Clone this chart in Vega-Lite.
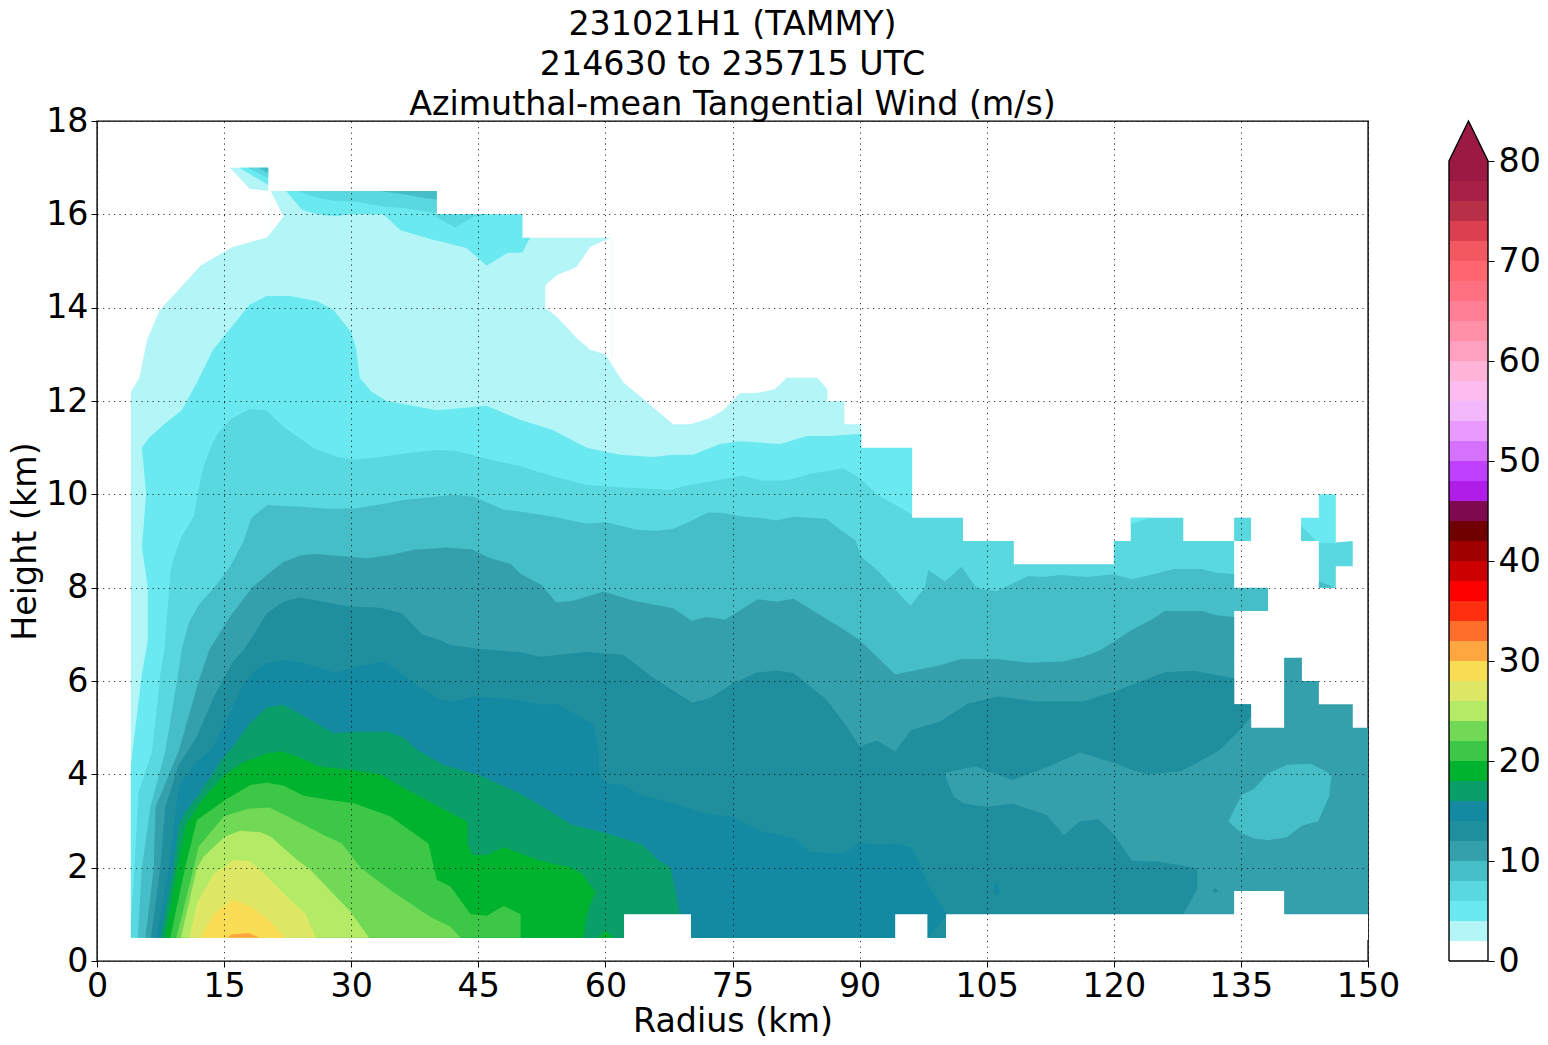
{"$schema":"https://vega.github.io/schema/vega-lite/v6.json","background":"white","padding":{"left":7,"top":6,"right":0,"bottom":0},"spacing":45,"config":{"font":"DejaVu Sans","view":{"stroke":null},"title":{"font":"DejaVu Sans"}},"hconcat":[{"width":1271,"height":840,"view":{"stroke":"black","strokeWidth":1.4},"title":{"text":["231021H1 (TAMMY)","214630 to 235715 UTC","Azimuthal-mean Tangential Wind (m/s)"],"fontSize":33.3,"fontWeight":"normal","lineHeight":40,"anchor":"middle","offset":-18,"color":"black"},"data":{"values":[
{"id":"a","level":2,"r":4,"lo":0.5,"hi":12.2},{"id":"a","level":2,"r":5,"lo":0.5,"hi":12.5},{"id":"a","level":2,"r":5.9,"lo":0.5,"hi":13.3},{"id":"a","level":2,"r":7.4,"lo":0.5,"hi":13.95},{"id":"a","level":2,"r":9.2,"lo":0.5,"hi":14.3},{"id":"a","level":2,"r":12.2,"lo":0.5,"hi":14.9},{"id":"a","level":2,"r":16,"lo":0.5,"hi":15.3},{"id":"a","level":2,"r":20,"lo":0.5,"hi":15.5},{"id":"a","level":2,"r":20.5,"lo":0.5,"hi":15.6},{"id":"a","level":2,"r":20.5,"lo":0.5,"hi":16.5},{"id":"a","level":2,"r":40.1,"lo":0.5,"hi":16.5},{"id":"a","level":2,"r":40.1,"lo":0.5,"hi":16},{"id":"a","level":2,"r":50.2,"lo":0.5,"hi":16},{"id":"a","level":2,"r":50.2,"lo":0.5,"hi":15.5},{"id":"a","level":2,"r":60.7,"lo":0.5,"hi":15.5},{"id":"a","level":2,"r":60.7,"lo":0.5,"hi":12.8},{"id":"a","level":2,"r":62.1,"lo":0.5,"hi":12.4},{"id":"a","level":2,"r":64.1,"lo":0.5,"hi":12.1},{"id":"a","level":2,"r":68,"lo":0.5,"hi":11.5},{"id":"a","level":2,"r":70,"lo":0.5,"hi":11.5},{"id":"a","level":2,"r":72.3,"lo":0.5,"hi":11.63},{"id":"a","level":2,"r":73.9,"lo":0.5,"hi":11.8},{"id":"a","level":2,"r":75.9,"lo":0.5,"hi":12.17},{"id":"a","level":2,"r":77.9,"lo":0.5,"hi":12.17},{"id":"a","level":2,"r":80,"lo":0.5,"hi":12.25},{"id":"a","level":2,"r":81.4,"lo":0.5,"hi":12.5},{"id":"a","level":2,"r":85,"lo":0.5,"hi":12.5},{"id":"a","level":2,"r":86.2,"lo":0.5,"hi":12.25},{"id":"a","level":2,"r":86.2,"lo":0.5,"hi":12},{"id":"a","level":2,"r":88.2,"lo":0.5,"hi":12},{"id":"a","level":2,"r":88.2,"lo":0.5,"hi":11.5},{"id":"a","level":2,"r":90.2,"lo":0.5,"hi":11.5},
{"id":"a2","level":2,"r":15.7,"lo":17,"hi":17},{"id":"a2","level":2,"r":18,"lo":16.55,"hi":17},{"id":"a2","level":2,"r":20.2,"lo":16.5,"hi":17},
{"id":"a3","level":4,"r":16.8,"lo":17,"hi":17},{"id":"a3","level":4,"r":20.2,"lo":16.63,"hi":17},
{"id":"a4","level":6,"r":17.7,"lo":17,"hi":17},{"id":"a4","level":6,"r":20.2,"lo":16.78,"hi":17},
{"id":"a5","level":8,"r":19,"lo":17,"hi":17},{"id":"a5","level":8,"r":20.2,"lo":16.88,"hi":17},
{"id":"b","level":4,"r":4,"lo":0.5,"hi":4.2},{"id":"b","level":4,"r":5.3,"lo":0.5,"hi":6.15},{"id":"b","level":4,"r":5.3,"lo":0.5,"hi":11},{"id":"b","level":4,"r":6.1,"lo":0.5,"hi":11.2},{"id":"b","level":4,"r":7.9,"lo":0.5,"hi":11.5},{"id":"b","level":4,"r":10,"lo":0.5,"hi":11.8},{"id":"b","level":4,"r":11.8,"lo":0.5,"hi":12.4},{"id":"b","level":4,"r":13.7,"lo":0.5,"hi":13.1},{"id":"b","level":4,"r":18,"lo":0.5,"hi":14.06},{"id":"b","level":4,"r":20,"lo":0.5,"hi":14.25},{"id":"b","level":4,"r":22.8,"lo":0.5,"hi":14.25},{"id":"b","level":4,"r":26,"lo":0.5,"hi":14.14},{"id":"b","level":4,"r":27.9,"lo":0.5,"hi":13.95},{"id":"b","level":4,"r":30,"lo":0.5,"hi":13.48},{"id":"b","level":4,"r":30.6,"lo":0.5,"hi":13.1},{"id":"b","level":4,"r":31,"lo":0.5,"hi":12.5},{"id":"b","level":4,"r":32.4,"lo":0.5,"hi":12.2},{"id":"b","level":4,"r":34.2,"lo":0.5,"hi":12},{"id":"b","level":4,"r":40.1,"lo":0.5,"hi":11.8},{"id":"b","level":4,"r":46,"lo":0.5,"hi":11.9},{"id":"b","level":4,"r":49.9,"lo":0.5,"hi":11.6},{"id":"b","level":4,"r":53.8,"lo":0.5,"hi":11.38},{"id":"b","level":4,"r":57.8,"lo":0.5,"hi":11},{"id":"b","level":4,"r":61.7,"lo":0.5,"hi":10.85},{"id":"b","level":4,"r":65.6,"lo":0.5,"hi":10.8},{"id":"b","level":4,"r":68,"lo":0.5,"hi":10.85},{"id":"b","level":4,"r":70.3,"lo":0.5,"hi":10.85},{"id":"b","level":4,"r":73.5,"lo":0.5,"hi":11.08},{"id":"b","level":4,"r":75.9,"lo":0.5,"hi":11.14},{"id":"b","level":4,"r":80.6,"lo":0.5,"hi":11.08},{"id":"b","level":4,"r":83.8,"lo":0.5,"hi":11.25},{"id":"b","level":4,"r":86.5,"lo":0.5,"hi":11.25},{"id":"b","level":4,"r":90.2,"lo":0.5,"hi":11.3},{"id":"b","level":4,"r":90.2,"lo":0.5,"hi":11},{"id":"b","level":4,"r":96.2,"lo":0.5,"hi":11},
{"id":"b2","level":2,"r":5.3,"lo":6.15,"hi":8.87},{"id":"b2","level":2,"r":6,"lo":6.88,"hi":8},
{"id":"b3","level":2,"r":5.3,"lo":8.87,"hi":11},{"id":"b3","level":2,"r":5.8,"lo":10,"hi":10},
{"id":"b4","level":4,"r":22.3,"lo":16.5,"hi":16.5},{"id":"b4","level":4,"r":24.2,"lo":16.1,"hi":16.5},{"id":"b4","level":4,"r":26,"lo":16,"hi":16.5},{"id":"b4","level":4,"r":28,"lo":15.96,"hi":16.5},{"id":"b4","level":4,"r":30,"lo":16,"hi":16.5},{"id":"b4","level":4,"r":33.8,"lo":16,"hi":16.5},{"id":"b4","level":4,"r":35.8,"lo":15.66,"hi":16.5},{"id":"b4","level":4,"r":39.7,"lo":15.45,"hi":16.5},{"id":"b4","level":4,"r":40.1,"lo":15.44,"hi":16.5},{"id":"b4","level":4,"r":40.1,"lo":15.44,"hi":16},{"id":"b4","level":4,"r":43.6,"lo":15.28,"hi":16},{"id":"b4","level":4,"r":46,"lo":14.9,"hi":16},{"id":"b4","level":4,"r":48.4,"lo":15.17,"hi":16},{"id":"b4","level":4,"r":50.2,"lo":15.18,"hi":16},{"id":"b4","level":4,"r":50.2,"lo":15.18,"hi":15.5},{"id":"b4","level":4,"r":51.1,"lo":15.5,"hi":15.5},
{"id":"b5","level":6,"r":23.7,"lo":16.5,"hi":16.5},{"id":"b5","level":6,"r":25.5,"lo":16.38,"hi":16.5},{"id":"b5","level":6,"r":27.9,"lo":16.29,"hi":16.5},{"id":"b5","level":6,"r":30.6,"lo":16.27,"hi":16.5},{"id":"b5","level":6,"r":33.8,"lo":16.17,"hi":16.5},{"id":"b5","level":6,"r":36.2,"lo":16.13,"hi":16.5},{"id":"b5","level":6,"r":38.9,"lo":16.06,"hi":16.5},{"id":"b5","level":6,"r":40.1,"lo":16.02,"hi":16.5},
{"id":"b6","level":8,"r":33.4,"lo":16.5,"hi":16.5},{"id":"b6","level":8,"r":36.5,"lo":16.42,"hi":16.5},{"id":"b6","level":8,"r":38.9,"lo":16.34,"hi":16.5},{"id":"b6","level":8,"r":40.1,"lo":16.32,"hi":16.5},
{"id":"b7","level":6,"r":39.5,"lo":16,"hi":16},{"id":"b7","level":6,"r":42.25,"lo":15.72,"hi":16},{"id":"b7","level":6,"r":44.4,"lo":15.95,"hi":16},{"id":"b7","level":6,"r":46.4,"lo":16,"hi":16},
{"id":"c","level":6,"r":4,"lo":0.5,"hi":0.88},{"id":"c","level":6,"r":4.33,"lo":0.5,"hi":1.74},{"id":"c","level":6,"r":4.9,"lo":0.5,"hi":3.6},{"id":"c","level":6,"r":6.5,"lo":0.5,"hi":4.5},{"id":"c","level":6,"r":7.5,"lo":0.5,"hi":6.17},{"id":"c","level":6,"r":7.95,"lo":0.5,"hi":6.67},{"id":"c","level":6,"r":8.65,"lo":0.5,"hi":8.31},{"id":"c","level":6,"r":9.1,"lo":0.5,"hi":8.67},{"id":"c","level":6,"r":10,"lo":0.5,"hi":9.1},{"id":"c","level":6,"r":11.4,"lo":0.5,"hi":9.52},{"id":"c","level":6,"r":12.2,"lo":0.5,"hi":10.3},{"id":"c","level":6,"r":12.6,"lo":0.5,"hi":10.6},{"id":"c","level":6,"r":13.4,"lo":0.5,"hi":11},{"id":"c","level":6,"r":14.2,"lo":0.5,"hi":11.3},{"id":"c","level":6,"r":15.9,"lo":0.5,"hi":11.63},{"id":"c","level":6,"r":18.1,"lo":0.5,"hi":11.83},{"id":"c","level":6,"r":20,"lo":0.5,"hi":11.8},{"id":"c","level":6,"r":22,"lo":0.5,"hi":11.45},{"id":"c","level":6,"r":25.6,"lo":0.5,"hi":10.99},{"id":"c","level":6,"r":28.3,"lo":0.5,"hi":10.8},{"id":"c","level":6,"r":30.3,"lo":0.5,"hi":10.74},{"id":"c","level":6,"r":33.4,"lo":0.5,"hi":10.8},{"id":"c","level":6,"r":37.4,"lo":0.5,"hi":10.9},{"id":"c","level":6,"r":40.1,"lo":0.5,"hi":10.95},{"id":"c","level":6,"r":42.5,"lo":0.5,"hi":10.93},{"id":"c","level":6,"r":45.2,"lo":0.5,"hi":10.8},{"id":"c","level":6,"r":49.9,"lo":0.5,"hi":10.6},{"id":"c","level":6,"r":53.9,"lo":0.5,"hi":10.38},{"id":"c","level":6,"r":57.8,"lo":0.5,"hi":10.2},{"id":"c","level":6,"r":61.7,"lo":0.5,"hi":10.15},{"id":"c","level":6,"r":67.6,"lo":0.5,"hi":10.1},{"id":"c","level":6,"r":70.4,"lo":0.5,"hi":10.22},{"id":"c","level":6,"r":73.5,"lo":0.5,"hi":10.31},{"id":"c","level":6,"r":76.1,"lo":0.5,"hi":10.4},{"id":"c","level":6,"r":78.6,"lo":0.5,"hi":10.29},{"id":"c","level":6,"r":81.4,"lo":0.5,"hi":10.3},{"id":"c","level":6,"r":84.5,"lo":0.5,"hi":10.45},{"id":"c","level":6,"r":88.1,"lo":0.5,"hi":10.56},{"id":"c","level":6,"r":90,"lo":0.5,"hi":10.35},{"id":"c","level":6,"r":92,"lo":0.5,"hi":10},{"id":"c","level":6,"r":96.1,"lo":0.5,"hi":9.58},{"id":"c","level":6,"r":96.2,"lo":0.5,"hi":9.5},{"id":"c","level":6,"r":102.2,"lo":0.5,"hi":9.5},{"id":"c","level":6,"r":102.2,"lo":0.5,"hi":9},{"id":"c","level":6,"r":108.2,"lo":0.5,"hi":9},{"id":"c","level":6,"r":108.2,"lo":0.5,"hi":8.5},{"id":"c","level":6,"r":120,"lo":0.5,"hi":8.5},{"id":"c","level":6,"r":120,"lo":0.5,"hi":9},{"id":"c","level":6,"r":122,"lo":0.5,"hi":9},{"id":"c","level":6,"r":122,"lo":0.5,"hi":9.5},{"id":"c","level":6,"r":128.2,"lo":0.5,"hi":9.5},{"id":"c","level":6,"r":128.2,"lo":0.5,"hi":9},{"id":"c","level":6,"r":134.2,"lo":0.5,"hi":9},
{"id":"c2","level":4,"r":122,"lo":9.36,"hi":9.5},{"id":"c2","level":4,"r":124.3,"lo":9.5,"hi":9.5},
{"id":"c3","level":6,"r":134.2,"lo":9,"hi":9.5},{"id":"c3","level":6,"r":136.2,"lo":9,"hi":9.5},
{"id":"c4","level":4,"r":142.1,"lo":9,"hi":9.5},{"id":"c4","level":4,"r":144.2,"lo":9,"hi":9.5},{"id":"c4","level":4,"r":144.2,"lo":8.9,"hi":10},{"id":"c4","level":4,"r":146.2,"lo":8.9,"hi":10},
{"id":"c5","level":6,"r":142.1,"lo":9,"hi":9.34},{"id":"c5","level":6,"r":143.9,"lo":9,"hi":9},
{"id":"c6","level":6,"r":144.2,"lo":8,"hi":8.96},{"id":"c6","level":6,"r":146.2,"lo":8,"hi":8.95},{"id":"c6","level":6,"r":146.2,"lo":8.46,"hi":8.97},{"id":"c6","level":6,"r":148.2,"lo":8.46,"hi":9},
{"id":"c7","level":8,"r":144.2,"lo":8,"hi":8.14},{"id":"c7","level":8,"r":146.2,"lo":8,"hi":8},
{"id":"d","level":8,"r":4.8,"lo":0.5,"hi":0.5},{"id":"d","level":8,"r":5.3,"lo":0.5,"hi":2},{"id":"d","level":8,"r":6.3,"lo":0.5,"hi":3.3},{"id":"d","level":8,"r":8.06,"lo":0.5,"hi":4.5},{"id":"d","level":8,"r":9.44,"lo":0.5,"hi":6},{"id":"d","level":8,"r":10,"lo":0.5,"hi":6.67},{"id":"d","level":8,"r":10.8,"lo":0.5,"hi":7.24},{"id":"d","level":8,"r":12,"lo":0.5,"hi":7.63},{"id":"d","level":8,"r":13.8,"lo":0.5,"hi":8},{"id":"d","level":8,"r":15.7,"lo":0.5,"hi":8.45},{"id":"d","level":8,"r":17.3,"lo":0.5,"hi":9},{"id":"d","level":8,"r":18.2,"lo":0.5,"hi":9.49},{"id":"d","level":8,"r":20.1,"lo":0.5,"hi":9.77},{"id":"d","level":8,"r":23.6,"lo":0.5,"hi":9.74},{"id":"d","level":8,"r":27.5,"lo":0.5,"hi":9.69},{"id":"d","level":8,"r":30.7,"lo":0.5,"hi":9.7},{"id":"d","level":8,"r":33.8,"lo":0.5,"hi":9.8},{"id":"d","level":8,"r":36.2,"lo":0.5,"hi":9.88},{"id":"d","level":8,"r":42.1,"lo":0.5,"hi":9.99},{"id":"d","level":8,"r":44.5,"lo":0.5,"hi":9.95},{"id":"d","level":8,"r":48,"lo":0.5,"hi":9.67},{"id":"d","level":8,"r":49.9,"lo":0.5,"hi":9.63},{"id":"d","level":8,"r":53.9,"lo":0.5,"hi":9.52},{"id":"d","level":8,"r":57.8,"lo":0.5,"hi":9.37},{"id":"d","level":8,"r":60.1,"lo":0.5,"hi":9.4},{"id":"d","level":8,"r":63.7,"lo":0.5,"hi":9.24},{"id":"d","level":8,"r":66,"lo":0.5,"hi":9.22},{"id":"d","level":8,"r":68,"lo":0.5,"hi":9.26},{"id":"d","level":8,"r":70,"lo":0.5,"hi":9.42},{"id":"d","level":8,"r":72.1,"lo":0.5,"hi":9.61},{"id":"d","level":8,"r":73.9,"lo":0.5,"hi":9.6},{"id":"d","level":8,"r":76.3,"lo":0.5,"hi":9.52},{"id":"d","level":8,"r":78.6,"lo":0.5,"hi":9.49},{"id":"d","level":8,"r":80.2,"lo":0.5,"hi":9.44},{"id":"d","level":8,"r":82.2,"lo":0.5,"hi":9.52},{"id":"d","level":8,"r":86.1,"lo":0.5,"hi":9.47},{"id":"d","level":8,"r":87.7,"lo":0.5,"hi":9.24},{"id":"d","level":8,"r":89.5,"lo":0.5,"hi":9.02},{"id":"d","level":8,"r":90.2,"lo":0.5,"hi":8.67},{"id":"d","level":8,"r":92.2,"lo":0.5,"hi":8.35},{"id":"d","level":8,"r":94,"lo":0.5,"hi":8},{"id":"d","level":8,"r":96,"lo":0.5,"hi":7.61},{"id":"d","level":8,"r":97.7,"lo":0.5,"hi":8},{"id":"d","level":8,"r":98.1,"lo":0.5,"hi":8.38},{"id":"d","level":8,"r":100.1,"lo":0.5,"hi":8.13},{"id":"d","level":8,"r":102,"lo":0.5,"hi":8.45},{"id":"d","level":8,"r":103.8,"lo":0.5,"hi":8},{"id":"d","level":8,"r":104.8,"lo":0.5,"hi":7.95},{"id":"d","level":8,"r":106.2,"lo":0.5,"hi":7.93},{"id":"d","level":8,"r":107.8,"lo":0.5,"hi":8.07},{"id":"d","level":8,"r":109.9,"lo":0.5,"hi":8.25},{"id":"d","level":8,"r":111.7,"lo":0.5,"hi":8.23},{"id":"d","level":8,"r":113.7,"lo":0.5,"hi":8.27},{"id":"d","level":8,"r":116.8,"lo":0.5,"hi":8.23},{"id":"d","level":8,"r":120,"lo":0.5,"hi":8.29},{"id":"d","level":8,"r":122.1,"lo":0.5,"hi":8.18},{"id":"d","level":8,"r":124.7,"lo":0.5,"hi":8.29},{"id":"d","level":8,"r":127,"lo":0.5,"hi":8.4},{"id":"d","level":8,"r":130.4,"lo":0.5,"hi":8.4},{"id":"d","level":8,"r":132.1,"lo":0.5,"hi":8.32},{"id":"d","level":8,"r":134.2,"lo":0.5,"hi":8.29},{"id":"d","level":8,"r":134.2,"lo":7.5,"hi":8},{"id":"d","level":8,"r":138.2,"lo":7.5,"hi":8},
{"id":"e","level":10,"r":5.7,"lo":0.5,"hi":0.5},{"id":"e","level":10,"r":6.7,"lo":0.5,"hi":2},{"id":"e","level":10,"r":6.9,"lo":0.5,"hi":3.3},{"id":"e","level":10,"r":9.64,"lo":0.5,"hi":4.5},{"id":"e","level":10,"r":12,"lo":0.5,"hi":6},{"id":"e","level":10,"r":13.26,"lo":0.5,"hi":6.67},{"id":"e","level":10,"r":15.7,"lo":0.5,"hi":7.38},{"id":"e","level":10,"r":18.3,"lo":0.5,"hi":8},{"id":"e","level":10,"r":20.3,"lo":0.5,"hi":8.31},{"id":"e","level":10,"r":22,"lo":0.5,"hi":8.55},{"id":"e","level":10,"r":24,"lo":0.5,"hi":8.69},{"id":"e","level":10,"r":25.6,"lo":0.5,"hi":8.72},{"id":"e","level":10,"r":29.5,"lo":0.5,"hi":8.67},{"id":"e","level":10,"r":31.9,"lo":0.5,"hi":8.63},{"id":"e","level":10,"r":34.6,"lo":0.5,"hi":8.7},{"id":"e","level":10,"r":37.4,"lo":0.5,"hi":8.81},{"id":"e","level":10,"r":41.3,"lo":0.5,"hi":8.86},{"id":"e","level":10,"r":44.3,"lo":0.5,"hi":8.82},{"id":"e","level":10,"r":46.4,"lo":0.5,"hi":8.63},{"id":"e","level":10,"r":48.8,"lo":0.5,"hi":8.51},{"id":"e","level":10,"r":49.9,"lo":0.5,"hi":8.31},{"id":"e","level":10,"r":52.5,"lo":0.5,"hi":8.05},{"id":"e","level":10,"r":54.2,"lo":0.5,"hi":7.68},{"id":"e","level":10,"r":56.2,"lo":0.5,"hi":7.72},{"id":"e","level":10,"r":59.8,"lo":0.5,"hi":7.92},{"id":"e","level":10,"r":63.3,"lo":0.5,"hi":7.72},{"id":"e","level":10,"r":68,"lo":0.5,"hi":7.56},{"id":"e","level":10,"r":70.2,"lo":0.5,"hi":7.29},{"id":"e","level":10,"r":71.9,"lo":0.5,"hi":7.37},{"id":"e","level":10,"r":74.1,"lo":0.5,"hi":7.31},{"id":"e","level":10,"r":76.1,"lo":0.5,"hi":7.54},{"id":"e","level":10,"r":78,"lo":0.5,"hi":7.75},{"id":"e","level":10,"r":80.2,"lo":0.5,"hi":7.7},{"id":"e","level":10,"r":82.2,"lo":0.5,"hi":7.76},{"id":"e","level":10,"r":85.3,"lo":0.5,"hi":7.42},{"id":"e","level":10,"r":88.5,"lo":0.5,"hi":7.06},{"id":"e","level":10,"r":90,"lo":0.5,"hi":6.88},{"id":"e","level":10,"r":94.2,"lo":0.5,"hi":6.14},{"id":"e","level":10,"r":99.5,"lo":0.5,"hi":6.34},{"id":"e","level":10,"r":102,"lo":0.5,"hi":6.47},{"id":"e","level":10,"r":106.2,"lo":0.5,"hi":6.47},{"id":"e","level":10,"r":110.1,"lo":0.5,"hi":6.39},{"id":"e","level":10,"r":114,"lo":0.5,"hi":6.42},{"id":"e","level":10,"r":116.4,"lo":0.5,"hi":6.52},{"id":"e","level":10,"r":118.4,"lo":0.5,"hi":6.66},{"id":"e","level":10,"r":120,"lo":0.5,"hi":6.84},{"id":"e","level":10,"r":121.9,"lo":0.5,"hi":7.07},{"id":"e","level":10,"r":124.7,"lo":0.5,"hi":7.34},{"id":"e","level":10,"r":126,"lo":0.5,"hi":7.5},{"id":"e","level":10,"r":130.4,"lo":0.5,"hi":7.5},{"id":"e","level":10,"r":132.1,"lo":0.5,"hi":7.41},{"id":"e","level":10,"r":134.2,"lo":0.5,"hi":7.37},{"id":"e","level":10,"r":134.2,"lo":0.5,"hi":5.5},{"id":"e","level":10,"r":136.2,"lo":0.5,"hi":5.5},{"id":"e","level":10,"r":136.2,"lo":0.5,"hi":5},{"id":"e","level":10,"r":140.1,"lo":0.5,"hi":5},{"id":"e","level":10,"r":140.1,"lo":0.5,"hi":6.5},{"id":"e","level":10,"r":142.2,"lo":0.5,"hi":6.5},{"id":"e","level":10,"r":142.2,"lo":0.5,"hi":6},{"id":"e","level":10,"r":144.2,"lo":0.5,"hi":6},{"id":"e","level":10,"r":144.2,"lo":0.5,"hi":5.5},{"id":"e","level":10,"r":148.2,"lo":0.5,"hi":5.5},{"id":"e","level":10,"r":148.2,"lo":0.5,"hi":5},{"id":"e","level":10,"r":150,"lo":0.5,"hi":5},
{"id":"f","level":12,"r":6.37,"lo":0.5,"hi":0.5},{"id":"f","level":12,"r":7.47,"lo":0.5,"hi":2},{"id":"f","level":12,"r":8.06,"lo":0.5,"hi":3.3},{"id":"f","level":12,"r":9.64,"lo":0.5,"hi":4.2},{"id":"f","level":12,"r":11.8,"lo":0.5,"hi":4.81},{"id":"f","level":12,"r":13.8,"lo":0.5,"hi":5.67},{"id":"f","level":12,"r":15.9,"lo":0.5,"hi":6.38},{"id":"f","level":12,"r":17.3,"lo":0.5,"hi":6.67},{"id":"f","level":12,"r":18.1,"lo":0.5,"hi":6.88},{"id":"f","level":12,"r":20.06,"lo":0.5,"hi":7.45},{"id":"f","level":12,"r":22,"lo":0.5,"hi":7.7},{"id":"f","level":12,"r":24,"lo":0.5,"hi":7.79},{"id":"f","level":12,"r":26.75,"lo":0.5,"hi":7.7},{"id":"f","level":12,"r":29.5,"lo":0.5,"hi":7.6},{"id":"f","level":12,"r":33.4,"lo":0.5,"hi":7.57},{"id":"f","level":12,"r":36,"lo":0.5,"hi":7.45},{"id":"f","level":12,"r":38.4,"lo":0.5,"hi":6.99},{"id":"f","level":12,"r":40.5,"lo":0.5,"hi":6.88},{"id":"f","level":12,"r":41.7,"lo":0.5,"hi":6.77},{"id":"f","level":12,"r":45,"lo":0.5,"hi":6.69},{"id":"f","level":12,"r":49.9,"lo":0.5,"hi":6.62},{"id":"f","level":12,"r":52.3,"lo":0.5,"hi":6.52},{"id":"f","level":12,"r":57.8,"lo":0.5,"hi":6.62},{"id":"f","level":12,"r":62.1,"lo":0.5,"hi":6.56},{"id":"f","level":12,"r":65.7,"lo":0.5,"hi":6.06},{"id":"f","level":12,"r":70.2,"lo":0.5,"hi":5.54},{"id":"f","level":12,"r":72.3,"lo":0.5,"hi":5.63},{"id":"f","level":12,"r":75.1,"lo":0.5,"hi":5.95},{"id":"f","level":12,"r":77.85,"lo":0.5,"hi":6.18},{"id":"f","level":12,"r":80.2,"lo":0.5,"hi":6.22},{"id":"f","level":12,"r":82.2,"lo":0.5,"hi":6.17},{"id":"f","level":12,"r":86.1,"lo":0.5,"hi":5.6},{"id":"f","level":12,"r":88.5,"lo":0.5,"hi":5.02},{"id":"f","level":12,"r":90,"lo":0.5,"hi":4.6},{"id":"f","level":12,"r":92.1,"lo":0.5,"hi":4.72},{"id":"f","level":12,"r":94.2,"lo":0.5,"hi":4.49},{"id":"f","level":12,"r":96.1,"lo":0.5,"hi":4.95},{"id":"f","level":12,"r":99.5,"lo":0.5,"hi":5.13},{"id":"f","level":12,"r":101,"lo":0.5,"hi":5.31},{"id":"f","level":12,"r":102.8,"lo":0.5,"hi":5.52},{"id":"f","level":12,"r":106.4,"lo":0.5,"hi":5.67},{"id":"f","level":12,"r":110.9,"lo":0.5,"hi":5.56},{"id":"f","level":12,"r":116.4,"lo":0.5,"hi":5.56},{"id":"f","level":12,"r":120,"lo":0.5,"hi":5.77},{"id":"f","level":12,"r":126,"lo":0.5,"hi":6.19},{"id":"f","level":12,"r":129.4,"lo":0.5,"hi":6.22},{"id":"f","level":12,"r":134.2,"lo":0.5,"hi":6.06},{"id":"f","level":12,"r":134.2,"lo":0.5,"hi":5.5},{"id":"f","level":12,"r":136.2,"lo":0.5,"hi":5.5},
{"id":"g","level":10,"r":100,"lo":4.02,"hi":4.02},{"id":"g","level":10,"r":101.1,"lo":3.52,"hi":4.07},{"id":"g","level":10,"r":102.25,"lo":3.38,"hi":4.12},{"id":"g","level":10,"r":103.8,"lo":3.33,"hi":4.17},{"id":"g","level":10,"r":105.2,"lo":3.31,"hi":4.06},{"id":"g","level":10,"r":108.1,"lo":3.37,"hi":3.88},{"id":"g","level":10,"r":112.1,"lo":3.13,"hi":4.15},{"id":"g","level":10,"r":114.1,"lo":2.7,"hi":4.31},{"id":"g","level":10,"r":116,"lo":2.99,"hi":4.47},{"id":"g","level":10,"r":118.2,"lo":3.04,"hi":4.35},{"id":"g","level":10,"r":120.1,"lo":2.7,"hi":4.24},{"id":"g","level":10,"r":122.1,"lo":2.15,"hi":4.1},{"id":"g","level":10,"r":123.9,"lo":2.14,"hi":4},{"id":"g","level":10,"r":125.1,"lo":2.13,"hi":4.02},{"id":"g","level":10,"r":127.8,"lo":2.05,"hi":4.06},{"id":"g","level":10,"r":129.85,"lo":1.99,"hi":4.25},{"id":"g","level":10,"r":129.85,"lo":0.5,"hi":4.25},{"id":"g","level":10,"r":132.5,"lo":0.5,"hi":4.52},{"id":"g","level":10,"r":135.1,"lo":0.5,"hi":4.99},{"id":"g","level":10,"r":136.2,"lo":0.5,"hi":5.24},
{"id":"g2","level":10,"r":128.2,"lo":0.5,"hi":1},{"id":"g2","level":10,"r":129.9,"lo":0.5,"hi":1.56},
{"id":"g3","level":12,"r":131.6,"lo":1.52,"hi":1.52},{"id":"g3","level":12,"r":132,"lo":1.46,"hi":1.56},{"id":"g3","level":12,"r":132.3,"lo":1.5,"hi":1.5},
{"id":"g4","level":8,"r":133.5,"lo":2.99,"hi":2.99},{"id":"g4","level":8,"r":135.1,"lo":2.74,"hi":3.56},{"id":"g4","level":8,"r":136.5,"lo":2.63,"hi":3.68},{"id":"g4","level":8,"r":138.2,"lo":2.59,"hi":4.02},{"id":"g4","level":8,"r":140.4,"lo":2.65,"hi":4.2},{"id":"g4","level":8,"r":142.2,"lo":2.9,"hi":4.22},{"id":"g4","level":8,"r":143.2,"lo":2.95,"hi":4.22},{"id":"g4","level":8,"r":144.1,"lo":2.99,"hi":4.15},{"id":"g4","level":8,"r":145.4,"lo":3.52,"hi":4.02},{"id":"g4","level":8,"r":145.7,"lo":3.99,"hi":3.99},
{"id":"h","level":14,"r":7,"lo":0.5,"hi":0.5},{"id":"h","level":14,"r":8.46,"lo":0.5,"hi":2},{"id":"h","level":14,"r":9.05,"lo":0.5,"hi":2.88},{"id":"h","level":14,"r":9.64,"lo":0.5,"hi":3.74},{"id":"h","level":14,"r":11.6,"lo":0.5,"hi":4.24},{"id":"h","level":14,"r":13.6,"lo":0.5,"hi":4.56},{"id":"h","level":14,"r":15.7,"lo":0.5,"hi":5.31},{"id":"h","level":14,"r":17.3,"lo":0.5,"hi":5.95},{"id":"h","level":14,"r":18.5,"lo":0.5,"hi":6.2},{"id":"h","level":14,"r":20,"lo":0.5,"hi":6.38},{"id":"h","level":14,"r":22.4,"lo":0.5,"hi":6.45},{"id":"h","level":14,"r":24.4,"lo":0.5,"hi":6.38},{"id":"h","level":14,"r":28.1,"lo":0.5,"hi":6.18},{"id":"h","level":14,"r":31.5,"lo":0.5,"hi":6.34},{"id":"h","level":14,"r":34,"lo":0.5,"hi":6.42},{"id":"h","level":14,"r":38,"lo":0.5,"hi":5.88},{"id":"h","level":14,"r":40.5,"lo":0.5,"hi":5.61},{"id":"h","level":14,"r":42.1,"lo":0.5,"hi":5.56},{"id":"h","level":14,"r":44.3,"lo":0.5,"hi":5.67},{"id":"h","level":14,"r":49.9,"lo":0.5,"hi":5.59},{"id":"h","level":14,"r":52.3,"lo":0.5,"hi":5.49},{"id":"h","level":14,"r":54.4,"lo":0.5,"hi":5.5},{"id":"h","level":14,"r":58.6,"lo":0.5,"hi":5.06},{"id":"h","level":14,"r":59.2,"lo":0.5,"hi":4.52},{"id":"h","level":14,"r":59.3,"lo":0.5,"hi":4.02},{"id":"h","level":14,"r":60,"lo":0.5,"hi":3.81},{"id":"h","level":14,"r":62.1,"lo":0.5,"hi":3.77},{"id":"h","level":14,"r":64.1,"lo":0.5,"hi":3.56},{"id":"h","level":14,"r":68,"lo":0.5,"hi":3.38},{"id":"h","level":14,"r":72,"lo":0.5,"hi":3.15},{"id":"h","level":14,"r":75.1,"lo":0.5,"hi":3.09},{"id":"h","level":14,"r":78.2,"lo":0.5,"hi":2.79},{"id":"h","level":14,"r":82.4,"lo":0.5,"hi":2.62},{"id":"h","level":14,"r":84.1,"lo":0.5,"hi":2.34},{"id":"h","level":14,"r":88.1,"lo":0.5,"hi":2.3},{"id":"h","level":14,"r":90,"lo":0.5,"hi":2.54},{"id":"h","level":14,"r":92.2,"lo":0.5,"hi":2.49},{"id":"h","level":14,"r":94.2,"lo":0.5,"hi":2.52},{"id":"h","level":14,"r":96.1,"lo":0.5,"hi":2.44},{"id":"h","level":14,"r":96.9,"lo":0.5,"hi":2.17},{"id":"h","level":14,"r":98.1,"lo":0.5,"hi":1.63},{"id":"h","level":14,"r":100.3,"lo":0.5,"hi":1},
{"id":"h2","level":12,"r":98.1,"lo":0.5,"hi":0.5},{"id":"h2","level":12,"r":100.2,"lo":0.5,"hi":0.97},
{"id":"h3","level":14,"r":105.9,"lo":1.45,"hi":1.6},{"id":"h3","level":14,"r":106.2,"lo":1.41,"hi":1.72},{"id":"h3","level":14,"r":106.5,"lo":1.45,"hi":1.55},
{"id":"i","level":16,"r":7.47,"lo":0.5,"hi":0.5},{"id":"i","level":16,"r":9,"lo":0.5,"hi":2},{"id":"i","level":16,"r":9.64,"lo":0.5,"hi":2.88},{"id":"i","level":16,"r":10.4,"lo":0.5,"hi":3.2},{"id":"i","level":16,"r":11.8,"lo":0.5,"hi":3.52},{"id":"i","level":16,"r":15,"lo":0.5,"hi":4.38},{"id":"i","level":16,"r":16.1,"lo":0.5,"hi":4.6},{"id":"i","level":16,"r":17.9,"lo":0.5,"hi":5.06},{"id":"i","level":16,"r":20,"lo":0.5,"hi":5.43},{"id":"i","level":16,"r":22,"lo":0.5,"hi":5.49},{"id":"i","level":16,"r":25.2,"lo":0.5,"hi":5.17},{"id":"i","level":16,"r":27.9,"lo":0.5,"hi":4.88},{"id":"i","level":16,"r":31.1,"lo":0.5,"hi":4.92},{"id":"i","level":16,"r":34.2,"lo":0.5,"hi":4.92},{"id":"i","level":16,"r":36.2,"lo":0.5,"hi":4.79},{"id":"i","level":16,"r":37.8,"lo":0.5,"hi":4.52},{"id":"i","level":16,"r":40.9,"lo":0.5,"hi":4.2},{"id":"i","level":16,"r":45,"lo":0.5,"hi":3.99},{"id":"i","level":16,"r":49.9,"lo":0.5,"hi":3.59},{"id":"i","level":16,"r":52.3,"lo":0.5,"hi":3.34},{"id":"i","level":16,"r":56,"lo":0.5,"hi":2.92},{"id":"i","level":16,"r":60,"lo":0.5,"hi":2.75},{"id":"i","level":16,"r":64.3,"lo":0.5,"hi":2.5},{"id":"i","level":16,"r":66.2,"lo":0.5,"hi":2.17},{"id":"i","level":16,"r":67.7,"lo":0.5,"hi":2},{"id":"i","level":16,"r":68.8,"lo":0.5,"hi":1},{"id":"i","level":16,"r":69,"lo":0.5,"hi":0.5},
{"id":"j","level":18,"r":8,"lo":0.5,"hi":0.5},{"id":"j","level":18,"r":9.44,"lo":0.5,"hi":2},{"id":"j","level":18,"r":10.4,"lo":0.5,"hi":2.88},{"id":"j","level":18,"r":11.8,"lo":0.5,"hi":3.3},{"id":"j","level":18,"r":13.6,"lo":0.5,"hi":3.7},{"id":"j","level":18,"r":15.1,"lo":0.5,"hi":3.99},{"id":"j","level":18,"r":17.1,"lo":0.5,"hi":4.24},{"id":"j","level":18,"r":20.06,"lo":0.5,"hi":4.45},{"id":"j","level":18,"r":21.8,"lo":0.5,"hi":4.49},{"id":"j","level":18,"r":23.6,"lo":0.5,"hi":4.38},{"id":"j","level":18,"r":26.2,"lo":0.5,"hi":4.17},{"id":"j","level":18,"r":30.3,"lo":0.5,"hi":4.09},{"id":"j","level":18,"r":33.4,"lo":0.5,"hi":4},{"id":"j","level":18,"r":37.4,"lo":0.5,"hi":3.59},{"id":"j","level":18,"r":43.7,"lo":0.5,"hi":2.99},{"id":"j","level":18,"r":43.7,"lo":0.5,"hi":2.52},{"id":"j","level":18,"r":44.3,"lo":0.5,"hi":2.27},{"id":"j","level":18,"r":46,"lo":0.5,"hi":2.27},{"id":"j","level":18,"r":48,"lo":0.5,"hi":2.44},{"id":"j","level":18,"r":49.9,"lo":0.5,"hi":2.31},{"id":"j","level":18,"r":52.3,"lo":0.5,"hi":2.15},{"id":"j","level":18,"r":56,"lo":0.5,"hi":2},{"id":"j","level":18,"r":57.4,"lo":0.5,"hi":1.85},{"id":"j","level":18,"r":57.8,"lo":1,"hi":1.72},{"id":"j","level":18,"r":58.8,"lo":1.49,"hi":1.49},
{"id":"j2","level":18,"r":59.1,"lo":0.5,"hi":0.5},{"id":"j2","level":18,"r":60,"lo":0.5,"hi":0.65},{"id":"j2","level":18,"r":61,"lo":0.5,"hi":0.5},
{"id":"k","level":20,"r":8.65,"lo":0.5,"hi":0.5},{"id":"k","level":20,"r":10.4,"lo":0.5,"hi":2},{"id":"k","level":20,"r":11.8,"lo":0.5,"hi":3.02},{"id":"k","level":20,"r":15.1,"lo":0.5,"hi":3.45},{"id":"k","level":20,"r":18.1,"lo":0.5,"hi":3.77},{"id":"k","level":20,"r":20,"lo":0.5,"hi":3.82},{"id":"k","level":20,"r":22,"lo":0.5,"hi":3.76},{"id":"k","level":20,"r":24.4,"lo":0.5,"hi":3.54},{"id":"k","level":20,"r":27.5,"lo":0.5,"hi":3.45},{"id":"k","level":20,"r":30.3,"lo":0.5,"hi":3.38},{"id":"k","level":20,"r":34.6,"lo":0.5,"hi":3.1},{"id":"k","level":20,"r":39.1,"lo":0.5,"hi":2.52},{"id":"k","level":20,"r":40.1,"lo":0.5,"hi":1.74},{"id":"k","level":20,"r":41.7,"lo":0.5,"hi":1.6},{"id":"k","level":20,"r":44.1,"lo":0.5,"hi":1},{"id":"k","level":20,"r":46,"lo":0.5,"hi":0.97},{"id":"k","level":20,"r":48,"lo":0.5,"hi":1.18},{"id":"k","level":20,"r":50,"lo":0.5,"hi":1},{"id":"k","level":20,"r":50,"lo":0.5,"hi":0.5},
{"id":"l","level":22,"r":9.36,"lo":0.5,"hi":0.5},{"id":"l","level":22,"r":11.4,"lo":0.5,"hi":2},{"id":"l","level":22,"r":12,"lo":0.5,"hi":2.45},{"id":"l","level":22,"r":15,"lo":0.5,"hi":3.1},{"id":"l","level":22,"r":17.9,"lo":0.5,"hi":3.26},{"id":"l","level":22,"r":20.26,"lo":0.5,"hi":3.29},{"id":"l","level":22,"r":21.4,"lo":0.5,"hi":3.2},{"id":"l","level":22,"r":26.75,"lo":0.5,"hi":2.7},{"id":"l","level":22,"r":28.9,"lo":0.5,"hi":2.52},{"id":"l","level":22,"r":31.1,"lo":0.5,"hi":2},{"id":"l","level":22,"r":34.6,"lo":0.5,"hi":1.52},{"id":"l","level":22,"r":39.3,"lo":0.5,"hi":0.95},{"id":"l","level":22,"r":41.7,"lo":0.5,"hi":0.74},{"id":"l","level":22,"r":42.9,"lo":0.5,"hi":0.5},
{"id":"m","level":24,"r":9.9,"lo":0.5,"hi":0.5},{"id":"m","level":24,"r":11.8,"lo":0.5,"hi":2},{"id":"m","level":24,"r":12.6,"lo":0.5,"hi":2.24},{"id":"m","level":24,"r":13.8,"lo":0.5,"hi":2.45},{"id":"m","level":24,"r":15.1,"lo":0.5,"hi":2.67},{"id":"m","level":24,"r":16.9,"lo":0.5,"hi":2.79},{"id":"m","level":24,"r":19.3,"lo":0.5,"hi":2.76},{"id":"m","level":24,"r":20.5,"lo":0.5,"hi":2.67},{"id":"m","level":24,"r":23.6,"lo":0.5,"hi":2.17},{"id":"m","level":24,"r":25.2,"lo":0.5,"hi":1.95},{"id":"m","level":24,"r":29.9,"lo":0.5,"hi":1.06},{"id":"m","level":24,"r":32.1,"lo":0.5,"hi":0.5},
{"id":"n","level":26,"r":10.9,"lo":0.5,"hi":0.5},{"id":"n","level":26,"r":11.8,"lo":0.5,"hi":1.24},{"id":"n","level":26,"r":13.8,"lo":0.5,"hi":1.88},{"id":"n","level":26,"r":15.1,"lo":0.5,"hi":2.02},{"id":"n","level":26,"r":16.1,"lo":0.5,"hi":2.17},{"id":"n","level":26,"r":18.1,"lo":0.5,"hi":2.14},{"id":"n","level":26,"r":19.7,"lo":0.5,"hi":1.88},{"id":"n","level":26,"r":22,"lo":0.5,"hi":1.45},{"id":"n","level":26,"r":24.6,"lo":0.5,"hi":1.02},{"id":"n","level":26,"r":25.85,"lo":0.5,"hi":0.5},
{"id":"o","level":28,"r":12.2,"lo":0.5,"hi":0.5},{"id":"o","level":28,"r":13.8,"lo":0.5,"hi":1.02},{"id":"o","level":28,"r":16.1,"lo":0.5,"hi":1.32},{"id":"o","level":28,"r":18.5,"lo":0.5,"hi":1.13},{"id":"o","level":28,"r":20.5,"lo":0.5,"hi":0.84},{"id":"o","level":28,"r":22.2,"lo":0.5,"hi":0.5},
{"id":"p","level":30,"r":15.4,"lo":0.5,"hi":0.5},{"id":"p","level":30,"r":15.9,"lo":0.5,"hi":0.57},{"id":"p","level":30,"r":17.9,"lo":0.5,"hi":0.6},{"id":"p","level":30,"r":19.2,"lo":0.5,"hi":0.5},
{"id":"z1","level":0,"r":62.2,"lo":0.47,"hi":1},{"id":"z1","level":0,"r":70.1,"lo":0.47,"hi":1},
{"id":"z2","level":0,"r":94.2,"lo":0.47,"hi":1},{"id":"z2","level":0,"r":98,"lo":0.47,"hi":1},
{"id":"z3","level":0,"r":100.2,"lo":0.45,"hi":1},{"id":"z3","level":0,"r":150,"lo":0.45,"hi":1},
{"id":"z4","level":0,"r":134.2,"lo":0.98,"hi":1.5},{"id":"z4","level":0,"r":140.1,"lo":0.98,"hi":1.5},
{"id":"z5","level":0,"r":52.9,"lo":14,"hi":14.48},{"id":"z5","level":0,"r":54.3,"lo":13.8,"hi":14.7},{"id":"z5","level":0,"r":56.6,"lo":13.35,"hi":14.87},{"id":"z5","level":0,"r":58.2,"lo":13.1,"hi":15.3},{"id":"z5","level":0,"r":60,"lo":13,"hi":15.45},{"id":"z5","level":0,"r":60.7,"lo":12.8,"hi":15.5},
{"id":"z6","level":0,"r":20.5,"lo":15.6,"hi":16.5},{"id":"z6","level":0,"r":22,"lo":15.95,"hi":15.95}
]},"mark":{"type":"area","orient":"vertical","clip":true},"encoding":{"x":{"field":"r","type":"quantitative","scale":{"domain":[0,150],"nice":false},"axis":{"values":[0,15,30,45,60,75,90,105,120,135,150],"title":"Radius (km)","grid":true,"gridColor":"black","gridDash":[1.2,4.3],"gridOpacity":0.8,"gridWidth":1,"zindex":1,"domain":false,"tickColor":"black","tickSize":6,"labelFontSize":33.3,"labelColor":"black","labelPadding":3,"labelFlush":false,"titleFontSize":33.3,"titleFontWeight":"normal","titleColor":"black","titlePadding":3}},"y":{"field":"lo","type":"quantitative","stack":null,"scale":{"domain":[0,18],"nice":false},"axis":{"values":[0,2,4,6,8,10,12,14,16,18],"title":"Height (km)","grid":true,"gridColor":"black","gridDash":[1.2,4.3],"gridOpacity":0.8,"gridWidth":1,"zindex":1,"domain":false,"tickColor":"black","tickSize":6,"labelFontSize":33.3,"labelColor":"black","labelPadding":3,"titleFontSize":33.3,"titleFontWeight":"normal","titleColor":"black","titlePadding":3}},"y2":{"field":"hi"},"detail":{"field":"id"},"color":{"field":"level","type":"ordinal","legend":null,"scale":{"domain":[0,2,4,6,8,10,12,14,16,18,20,22,24,26,28,30,32,34,36,38,40,42,44,46,48,50,52,54,56,58,60,62,64,66,68,70,72,74,76,78],"range":["#ffffff","#b4f5f7","#6aeaf0","#5ad8df","#46bec8","#34a0ac","#1f8f9e","#138aa2","#0a9e68","#00b32e","#3cc846","#72d957","#b3ea66","#dfe866","#f8dd55","#ffa640","#ff6e2a","#ff3010","#ff0000","#cc0000","#a00000","#700000","#800a50","#b01ce8","#c040ff","#d670ff","#e89aff","#f3b8fb","#fcbcf0","#ffb4d8","#ffa0c0","#ff90a8","#ff8094","#ff7080","#ff6670","#f25860","#dc4050","#b83048","#a82048","#9a1a44"]}}}},
{"width":39,"height":840,"layer":[{"data":{"values":[{"level":0,"lo":0,"hi":2},{"level":2,"lo":2,"hi":4},{"level":4,"lo":4,"hi":6},{"level":6,"lo":6,"hi":8},{"level":8,"lo":8,"hi":10},{"level":10,"lo":10,"hi":12},{"level":12,"lo":12,"hi":14},{"level":14,"lo":14,"hi":16},{"level":16,"lo":16,"hi":18},{"level":18,"lo":18,"hi":20},{"level":20,"lo":20,"hi":22},{"level":22,"lo":22,"hi":24},{"level":24,"lo":24,"hi":26},{"level":26,"lo":26,"hi":28},{"level":28,"lo":28,"hi":30},{"level":30,"lo":30,"hi":32},{"level":32,"lo":32,"hi":34},{"level":34,"lo":34,"hi":36},{"level":36,"lo":36,"hi":38},{"level":38,"lo":38,"hi":40},{"level":40,"lo":40,"hi":42},{"level":42,"lo":42,"hi":44},{"level":44,"lo":44,"hi":46},{"level":46,"lo":46,"hi":48},{"level":48,"lo":48,"hi":50},{"level":50,"lo":50,"hi":52},{"level":52,"lo":52,"hi":54},{"level":54,"lo":54,"hi":56},{"level":56,"lo":56,"hi":58},{"level":58,"lo":58,"hi":60},{"level":60,"lo":60,"hi":62},{"level":62,"lo":62,"hi":64},{"level":64,"lo":64,"hi":66},{"level":66,"lo":66,"hi":68},{"level":68,"lo":68,"hi":70},{"level":70,"lo":70,"hi":72},{"level":72,"lo":72,"hi":74},{"level":74,"lo":74,"hi":76},{"level":76,"lo":76,"hi":78},{"level":78,"lo":78,"hi":80}]},"mark":{"type":"rect"},"encoding":{"y":{"field":"lo","type":"quantitative","scale":{"domain":[0,84],"nice":false},"axis":{"orient":"right","values":[0,10,20,30,40,50,60,70,80],"title":null,"grid":false,"domain":false,"tickColor":"black","tickSize":6,"labelFontSize":33.3,"labelColor":"black","labelPadding":4}},"y2":{"field":"hi"},"color":{"field":"level","type":"ordinal","legend":null}}},{"data":{"values":[{"level":78,"x":0,"lo":80,"hi":80},{"level":78,"x":0.5,"lo":80,"hi":84},{"level":78,"x":1,"lo":80,"hi":80}]},"mark":{"type":"area","orient":"vertical"},"encoding":{"x":{"field":"x","type":"quantitative","scale":{"domain":[0,1],"nice":false},"axis":null},"y":{"field":"lo","type":"quantitative","stack":null},"y2":{"field":"hi"},"color":{"field":"level","type":"ordinal","legend":null}}},{"data":{"values":[{"i":1,"x":0,"v":0},{"i":2,"x":0,"v":80},{"i":3,"x":0.5,"v":84},{"i":4,"x":1,"v":80},{"i":5,"x":1,"v":0},{"i":6,"x":0,"v":0}]},"mark":{"type":"line","color":"black","strokeWidth":1.4,"clip":false},"encoding":{"x":{"field":"x","type":"quantitative"},"y":{"field":"v","type":"quantitative"},"order":{"field":"i","type":"quantitative"}}}]}]}
